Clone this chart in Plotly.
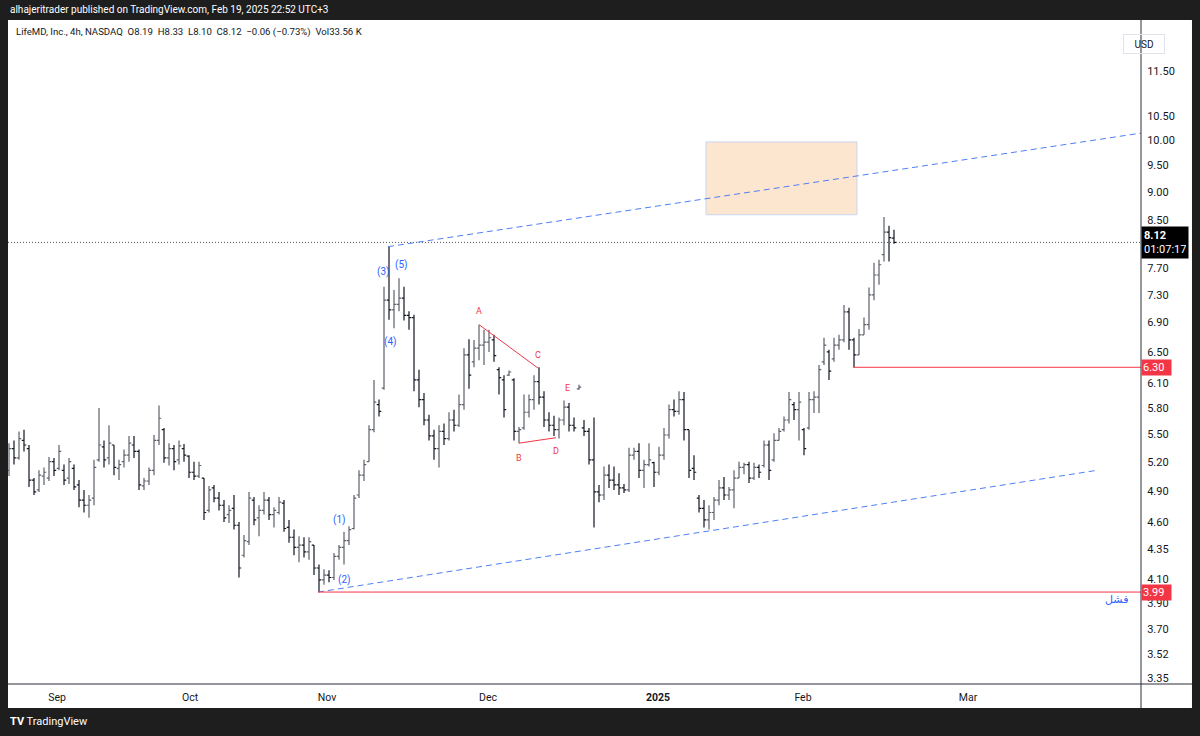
import math
import plotly.graph_objects as go

# ---- OHLC data (LifeMD, 4h bars) ----
opens = [
    5.11, 5.34, 5.24, 5.43, 5.34, 5.01, 4.91, 5.05, 5.03, 5.20,
    5.13, 5.11, 5.03, 5.13, 4.96, 4.81, 4.76, 4.83, 5.22, 5.36,
    5.24, 5.38, 5.13, 5.20, 5.27, 5.38, 5.31, 4.95, 5.00, 5.11,
    5.43, 5.55, 5.24, 5.34, 5.22, 5.34, 5.26, 5.09, 5.05, 5.03,
    4.71, 4.93, 4.83, 4.76, 4.67, 4.73, 4.57, 4.30, 4.42, 4.81,
    4.64, 4.71, 4.81, 4.67, 4.69, 4.78, 4.55, 4.46, 4.37, 4.39,
    4.33, 4.39, 4.19, 4.09, 4.13, 4.11, 4.29, 4.37, 4.43, 4.54,
    4.86, 5.06, 5.20, 5.55, 5.84, 6.04, 7.22, 7.08, 7.16, 7.25,
    7.00, 6.97, 6.14, 5.90, 5.66, 5.48, 5.34, 5.53, 5.45, 5.66,
    5.60, 5.84, 6.46, 6.37, 6.55, 6.59, 6.63, 6.66, 6.27, 6.14,
    6.20, 6.14, 5.53, 5.57, 5.75, 5.90, 6.12, 5.93, 5.66, 5.60,
    5.55, 5.66, 5.81, 5.60, 6.03, 5.57, 5.53, 5.22, 4.89, 4.86,
    5.06, 5.01, 4.96, 4.93, 4.91, 5.27, 5.31, 5.11, 5.17, 5.19,
    5.09, 5.27, 5.49, 5.78, 5.76, 5.90, 5.55, 5.13, 4.83, 4.73,
    4.62, 4.69, 4.81, 4.93, 4.86, 4.91, 5.03, 5.14, 5.17, 5.03,
    5.14, 5.16, 5.38, 5.22, 5.43, 5.55, 5.66, 5.84, 5.78, 5.55,
    5.57, 5.90, 5.93, 6.37, 6.50, 6.41, 6.59, 6.66, 7.05, 6.66,
    6.46, 6.73, 6.87, 7.30, 7.60, 7.92, 8.29, 8.19,
]
highs = [
    5.40, 5.43, 5.53, 5.55, 5.38, 5.03, 5.11, 5.14, 5.25, 5.24,
    5.38, 5.17, 5.24, 5.17, 5.01, 4.91, 4.86, 5.22, 5.80, 5.43,
    5.60, 5.38, 5.22, 5.33, 5.48, 5.48, 5.33, 5.03, 5.14, 5.49,
    5.83, 5.57, 5.40, 5.38, 5.43, 5.39, 5.27, 5.20, 5.20, 5.03,
    4.95, 4.96, 4.89, 4.81, 4.76, 4.86, 4.60, 4.48, 4.89, 4.84,
    4.76, 4.89, 4.84, 4.74, 4.84, 4.81, 4.62, 4.53, 4.47, 4.46,
    4.46, 4.39, 4.22, 4.18, 4.17, 4.32, 4.39, 4.51, 4.56, 4.86,
    5.11, 5.22, 5.60, 6.14, 5.90, 7.42, 8.05, 7.37, 7.55, 7.42,
    7.06, 7.01, 6.27, 5.98, 5.72, 5.55, 5.60, 5.62, 5.75, 5.78,
    5.96, 6.55, 6.67, 6.66, 6.87, 6.80, 6.80, 6.73, 6.30, 6.20,
    6.26, 6.16, 5.58, 5.96, 5.96, 6.20, 6.30, 6.00, 5.75, 5.71,
    5.69, 5.89, 5.86, 5.69, 6.08, 5.66, 5.57, 5.69, 4.96, 5.15,
    5.17, 5.15, 5.08, 4.97, 5.35, 5.35, 5.40, 5.22, 5.40, 5.20,
    5.36, 5.57, 5.84, 5.90, 6.00, 5.99, 5.55, 5.27, 4.86, 4.81,
    4.76, 4.84, 5.01, 5.04, 4.94, 5.11, 5.20, 5.19, 5.20, 5.19,
    5.17, 5.43, 5.43, 5.51, 5.57, 5.70, 5.99, 5.87, 5.99, 5.57,
    5.99, 6.00, 6.33, 6.69, 6.53, 6.69, 6.73, 7.15, 7.11, 6.69,
    6.81, 6.97, 7.41, 7.79, 7.84, 8.55, 8.40, 8.33,
]
lows = [
    5.05, 5.17, 5.22, 5.31, 4.94, 4.86, 4.89, 4.96, 5.00, 5.05,
    5.11, 4.96, 4.97, 4.91, 4.74, 4.69, 4.64, 4.76, 5.20, 5.14,
    5.17, 5.06, 5.01, 5.14, 5.20, 5.24, 4.91, 4.91, 4.96, 5.06,
    5.38, 5.19, 5.16, 5.11, 5.17, 5.20, 5.03, 5.01, 5.03, 4.62,
    4.69, 4.79, 4.71, 4.60, 4.59, 4.53, 4.11, 4.28, 4.39, 4.57,
    4.47, 4.67, 4.62, 4.55, 4.67, 4.51, 4.41, 4.30, 4.24, 4.28,
    4.26, 4.13, 3.99, 4.05, 4.07, 4.09, 4.26, 4.22, 4.39, 4.53,
    4.83, 5.00, 5.20, 5.52, 5.70, 6.02, 6.94, 6.82, 7.06, 6.93,
    6.80, 6.00, 5.81, 5.60, 5.43, 5.22, 5.14, 5.38, 5.43, 5.53,
    5.58, 5.78, 6.03, 6.30, 6.39, 6.33, 6.50, 6.37, 5.96, 5.69,
    6.19, 5.43, 5.40, 5.55, 5.69, 5.78, 5.84, 5.58, 5.53, 5.48,
    5.45, 5.60, 5.53, 5.53, 6.02, 5.48, 5.17, 4.55, 4.79, 4.81,
    4.93, 4.91, 4.86, 4.88, 4.89, 5.22, 5.03, 4.93, 5.15, 4.94,
    5.06, 5.22, 5.45, 5.70, 5.72, 5.43, 5.03, 5.01, 4.69, 4.55,
    4.53, 4.62, 4.76, 4.81, 4.81, 4.73, 5.03, 5.07, 4.98, 5.01,
    5.03, 5.14, 5.01, 5.20, 5.43, 5.53, 5.62, 5.66, 5.43, 5.27,
    5.55, 5.74, 5.74, 6.33, 6.14, 6.37, 6.53, 6.63, 6.53, 6.30,
    6.46, 6.73, 6.80, 7.22, 7.45, 7.81, 7.81, 8.10,
]
closes = [
    5.34, 5.24, 5.45, 5.38, 5.01, 4.89, 5.06, 5.09, 5.20, 5.11,
    5.31, 5.01, 5.20, 4.94, 4.81, 4.76, 4.81, 5.14, 5.38, 5.22,
    5.40, 5.14, 5.17, 5.27, 5.40, 5.31, 4.96, 5.00, 5.11, 5.43,
    5.68, 5.24, 5.34, 5.20, 5.37, 5.27, 5.09, 5.05, 5.16, 4.69,
    4.91, 4.83, 4.76, 4.64, 4.71, 4.57, 4.19, 4.43, 4.83, 4.62,
    4.71, 4.81, 4.67, 4.71, 4.79, 4.54, 4.46, 4.37, 4.39, 4.33,
    4.42, 4.19, 4.09, 4.13, 4.11, 4.29, 4.37, 4.43, 4.53, 4.83,
    5.06, 5.17, 5.55, 5.87, 5.76, 7.22, 7.08, 7.16, 7.25, 7.00,
    6.97, 6.14, 5.90, 5.66, 5.48, 5.34, 5.53, 5.45, 5.66, 5.60,
    5.84, 6.46, 6.20, 6.55, 6.59, 6.63, 6.69, 6.45, 6.17, 5.78,
    6.24, 5.53, 5.55, 5.75, 5.90, 6.12, 5.93, 5.66, 5.60, 5.55,
    5.66, 5.81, 5.60, 5.57, 6.05, 5.53, 5.22, 4.89, 4.86, 5.06,
    5.01, 4.96, 4.93, 4.91, 5.27, 5.31, 5.11, 5.17, 5.22, 5.09,
    5.27, 5.49, 5.78, 5.76, 5.90, 5.55, 5.11, 5.09, 4.73, 4.62,
    4.69, 4.81, 4.93, 4.86, 4.91, 5.03, 5.14, 5.17, 5.03, 5.14,
    5.09, 5.38, 5.11, 5.43, 5.53, 5.66, 5.90, 5.78, 5.87, 5.34,
    5.90, 5.93, 6.27, 6.59, 6.25, 6.59, 6.66, 7.05, 6.66, 6.46,
    6.73, 6.87, 7.30, 7.60, 7.76, 8.29, 8.20, 8.12,
]
bars = list(range(len(opens)))

# month labels (bar index where each month starts) and price-axis ticks
month_idx = [9.6, 36.2, 63.6, 95.8, 129.8, 158.8, 191.8]
month_labels = ["Sep", "Oct", "Nov", "Dec", "<b>2025</b>", "Feb", "Mar"]
price_ticks = [11.50, 10.50, 10.00, 9.50, 9.00, 8.50, 7.70, 7.30, 6.90, 6.50, 6.10,
               5.80, 5.50, 5.20, 4.90, 4.60, 4.35, 4.10, 3.90, 3.70, 3.52, 3.35]

# drawings (bar index, price)
upper_channel_x = [75.8, 226.4]
upper_channel_y = [8.05, 10.14]
lower_channel_x = [61.8, 217.6]
lower_channel_y = [3.99, 5.11]
ac_x, ac_y = [94, 105.8], [6.87, 6.29]
bd_x, bd_y = [102, 109.4], [5.40, 5.46]
target_x = [139.4, 169.6]
target_y = [8.59, 9.96]
level_630_x, level_630 = [168.8, 226.4], 6.30
level_399_x, level_399 = [61.8, 226.4], 3.99
last_price = 8.12
X_MIN, X_MAX = -0.2, 226.4

wave_labels = [("(1)", 66.0, 4.62), ("(2)", 67.0, 4.09), ("(3)", 74.8, 7.65),
               ("(4)", 76.2, 6.63), ("(5)", 78.4, 7.76)]
abc_labels = [("A", 94.0, 7.06), ("B", 102.0, 5.24), ("C", 105.8, 6.46),
              ("D", 109.4, 5.31), ("E", 111.6, 6.04)]

BLUE = "#2962ff"
RED = "#f23645"
TXT = "#131722"
FONT = "Roboto"

fig = go.Figure()

# target box
fig.add_trace(go.Scatter(
    x=[target_x[0], target_x[1], target_x[1], target_x[0], target_x[0]],
    y=[target_y[0], target_y[0], target_y[1], target_y[1], target_y[0]],
    mode="lines", fill="toself", fillcolor="rgba(250,200,150,0.45)",
    line=dict(color="#c9d5f3", width=1), hoverinfo="skip", showlegend=False))

# last price dotted line
fig.add_trace(go.Scatter(x=[X_MIN, X_MAX], y=[last_price, last_price], mode="lines",
                         line=dict(color="#50535e", width=1, dash="1px,2px"),
                         hoverinfo="skip", showlegend=False))

# channels
for xs, ys in [(upper_channel_x, upper_channel_y), (lower_channel_x, lower_channel_y)]:
    fig.add_trace(go.Scatter(x=xs, y=ys, mode="lines",
                             line=dict(color="#4f7ff5", width=1, dash="6px,4px"),
                             hoverinfo="skip", showlegend=False))

# red lines
for xs, ys in [(ac_x, ac_y), (bd_x, bd_y), (level_630_x, [level_630] * 2),
               (level_399_x, [level_399] * 2)]:
    fig.add_trace(go.Scatter(x=xs, y=ys, mode="lines", line=dict(color=RED, width=1),
                             hoverinfo="skip", showlegend=False))

fig.add_trace(go.Ohlc(
    x=bars, open=opens, high=highs, low=lows, close=closes,
    increasing=dict(line=dict(color="#5d606b", width=1.2)),
    decreasing=dict(line=dict(color="#131722", width=1.2)),
    tickwidth=0.45, hoverinfo="skip", showlegend=False))

annotations = []
for t, xi, p in wave_labels:
    annotations.append(dict(x=xi, y=math.log10(p), text=t, showarrow=False,
                            font=dict(family=FONT, size=10, color=BLUE)))
for t, xi, p in abc_labels:
    annotations.append(dict(x=xi, y=math.log10(p), text=t, showarrow=False,
                            font=dict(family=FONT, size=9, color=RED)))
annotations.append(dict(x=221.4, y=math.log10(3.93), text="فشل", showarrow=False,
                        font=dict(family="DejaVu Sans", size=11, color=BLUE)))

# price axis labels
annotations.append(dict(xref="paper", x=1.0, xanchor="left", y=math.log10(last_price),
                        text="<b>8.12</b><br>01:07:17", showarrow=False, align="left",
                        bgcolor="#000000", width=42, borderpad=2,
                        font=dict(family=FONT, size=11, color="#ffffff")))
for lvl in [level_630, level_399]:
    annotations.append(dict(xref="paper", x=1.0, xanchor="left", y=math.log10(lvl),
                            text=f"{lvl:.2f}", showarrow=False, align="left",
                            bgcolor=RED, width=27, borderpad=1,
                            font=dict(family=FONT, size=11, color="#ffffff")))
annotations.append(dict(xref="paper", yref="paper", x=1.0216, y=0.979, text="USD",
                        showarrow=False, bordercolor="#e0e3eb", borderwidth=1, borderpad=2,
                        width=36, height=14,
                        font=dict(family=FONT, size=10, color=TXT)))
# header and legend
annotations.append(dict(xref="paper", yref="paper", x=0, y=1.0151, xanchor="left",
                        yanchor="middle", showarrow=False,
                        text="alhajeritrader published on TradingView.com, Feb 19, 2025 22:52 UTC+3",
                        font=dict(family=FONT, size=10, color="#ffffff")))
annotations.append(dict(xref="paper", yref="paper", x=0.0053, y=0.982, xanchor="left",
                        yanchor="middle", showarrow=False,
                        text="LifeMD, Inc., 4h, NASDAQ  O8.19  H8.33  L8.10  C8.12  −0.06 (−0.73%)  Vol33.56 K",
                        font=dict(family=FONT, size=9.6, color=TXT)))
annotations.append(dict(xref="paper", yref="paper", x=0.0, y=-0.0572, xanchor="left",
                        yanchor="middle", showarrow=False,
                        text="<b>TV</b> TradingView",
                        font=dict(family=FONT, size=11, color="#ffffff")))

shapes = [
    dict(type="rect", xref="paper", yref="paper", x0=0, x1=1.045, y0=-0.0361, y1=1,
         fillcolor="#ffffff", line=dict(width=0), layer="below"),
    dict(type="line", xref="paper", yref="paper", x0=1, x1=1, y0=-0.0361, y1=1,
         line=dict(color="#2a2e39", width=1)),
    dict(type="line", xref="paper", yref="paper", x0=0, x1=1.045, y0=0, y1=0,
         line=dict(color="#2a2e39", width=1)),
]

fig.update_layout(
    width=1200, height=736,
    margin=dict(l=8, r=59, t=20, b=52),
    paper_bgcolor="#1e1e1e", plot_bgcolor="#ffffff",
    showlegend=False, annotations=annotations, shapes=shapes,
    font=dict(family=FONT, color=TXT),
    xaxis=dict(range=[X_MIN, X_MAX], rangeslider=dict(visible=False), showgrid=False,
               zeroline=False, tickvals=month_idx, ticktext=month_labels, ticks="outside",
               ticklen=3, tickcolor="rgba(0,0,0,0)",
               tickfont=dict(family=FONT, size=10.5, color=TXT), fixedrange=True),
    yaxis=dict(type="log", side="right",
               range=[math.log10(3.31), math.log10(12.76)], showgrid=False, zeroline=False,
               tickvals=price_ticks, ticktext=[f"{v:.2f}" for v in price_ticks],
               ticks="outside", ticklen=3, tickcolor="rgba(0,0,0,0)",
               tickfont=dict(family=FONT, size=11, color=TXT), fixedrange=True),
)

fig.write_html("out.html")
